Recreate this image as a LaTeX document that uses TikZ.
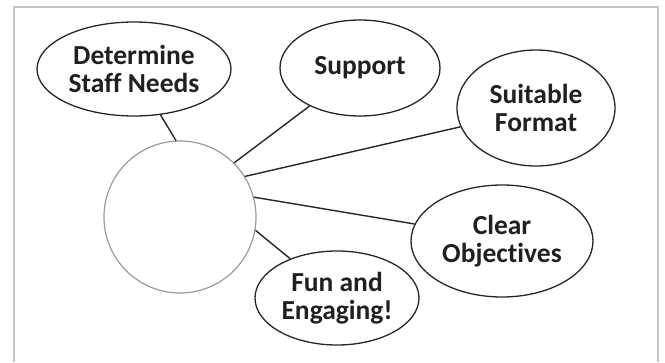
\documentclass[tikz,border=0pt]{standalone}
\usepackage{fontspec}
\setmainfont{Carlito}[RawFeature=-liga]
\usetikzlibrary{shapes.geometric}
\definecolor{txt}{HTML}{231F20}
\definecolor{frame}{HTML}{C4C4C4}
\definecolor{hubgray}{HTML}{9A9A9A}
\tikzset{
  idea/.style={ellipse, draw=black!85, line width=1.3pt, fill=white, inner sep=0pt,
    align=center, text=txt, font=\bfseries\fontsize{27.5}{28.5}\selectfont},
  link/.style={draw=black!85, line width=1.4pt},
  hub/.style={circle, draw=hubgray, line width=1.2pt, minimum size=152pt, inner sep=0pt}
}
\begin{document}
\begin{tikzpicture}[x=1pt,y=-1pt]
\useasboundingbox (0,0) rectangle (665,362);
\draw[frame, line width=1.5pt] (14,362) -- (14,7) -- (658,7) -- (658,362);
\node[hub] (hub) at (180,217) {};
\node[idea, minimum width=194pt, minimum height=94pt] (dsn) at (134,69) {Determine\\Staff Needs};
\node[idea, minimum width=160pt, minimum height=96pt] (sup) at (360,68) {Support};
\node[idea, minimum width=158pt, minimum height=116pt] (fmt) at (536,108) {Suitable\\Format};
\node[idea, minimum width=182pt, minimum height=112pt] (obj) at (502,241) {Clear\\Objectives};
\node[idea, minimum width=164pt, minimum height=94pt] (fun) at (337,298) {Fun and\\Engaging!};
\draw[link] (dsn.-60.5) -- (hub.93);
\draw[link] (sup.-143) -- (hub.45);
\draw[link] (fmt.-166) -- (hub.32.5);
\draw[link] (obj.169) -- (hub.15.5);
\draw[link] (fun.140) -- (hub.-10.5);
\end{tikzpicture}
\end{document}
